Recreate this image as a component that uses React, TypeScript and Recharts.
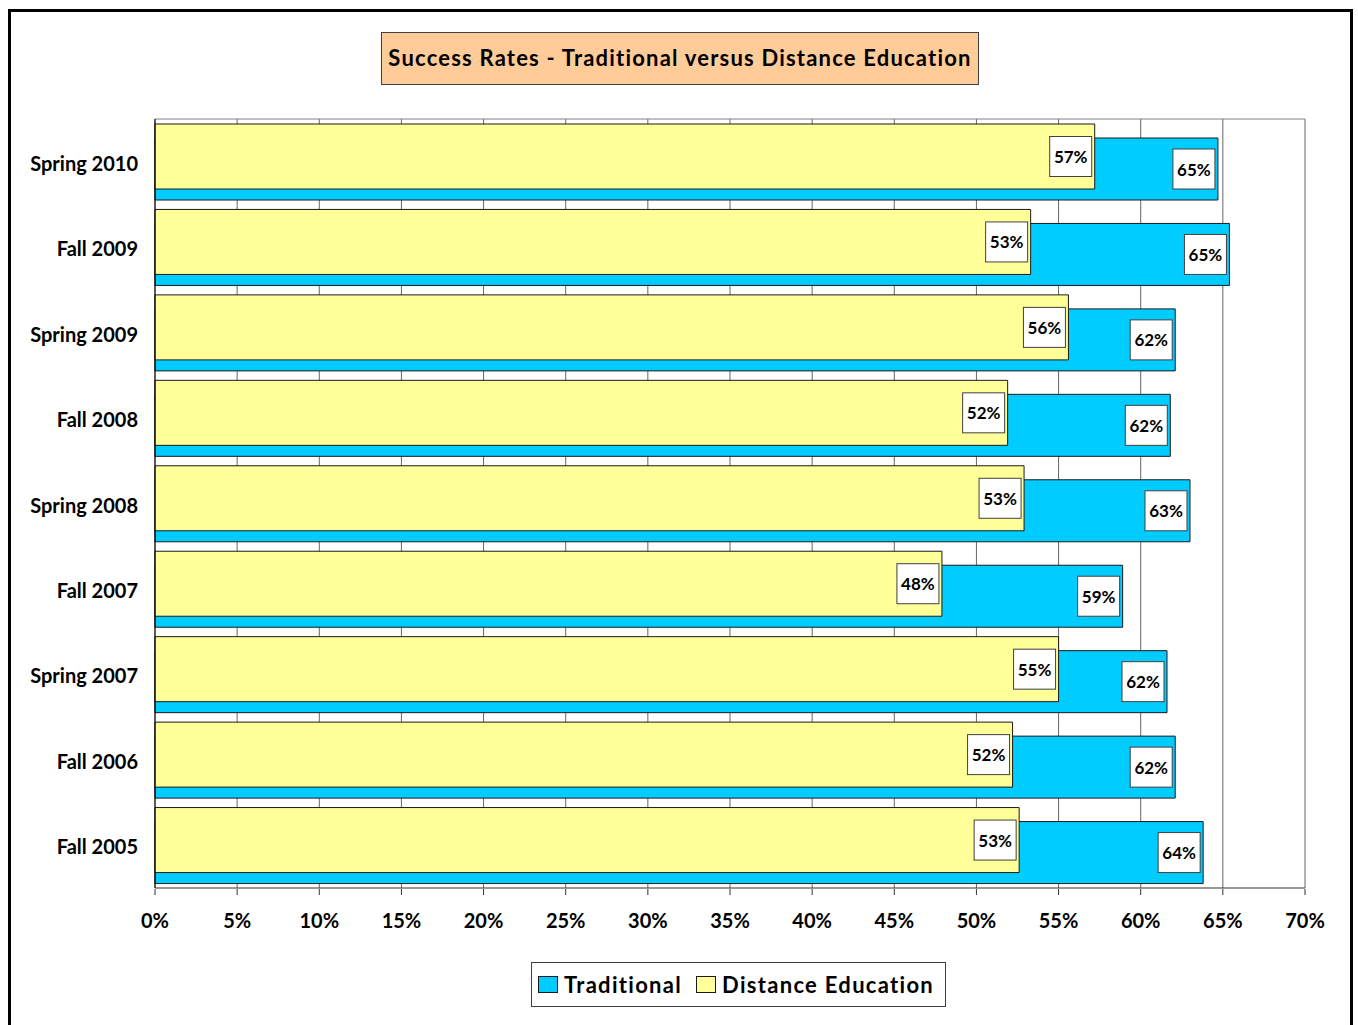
import React from 'react';
import { BarChart, Bar, XAxis, YAxis, CartesianGrid, LabelList } from 'recharts';

// terms, top to bottom as shown in the chart
const terms = [
  'Spring 2010',
  'Fall 2009',
  'Spring 2009',
  'Fall 2008',
  'Spring 2008',
  'Fall 2007',
  'Spring 2007',
  'Fall 2006',
  'Fall 2005',
];
// success rates in percent
const traditional = [64.7, 65.4, 62.1, 61.8, 63.0, 58.9, 61.6, 62.1, 63.8];
const distance = [57.2, 53.3, 55.6, 51.9, 52.9, 47.9, 55.0, 52.2, 52.6];

const majorTicks = [0, 5, 10, 15, 20, 25, 30, 35, 40, 45, 50, 55, 60, 65, 70];
const minorTicks = Array.from({ length: 71 }, (_, i) => i);
const boundaryTicks = [0, 1, 2, 3, 4, 5, 6, 7, 8, 9];

const BLUE = '#00CCFF';
const YELLOW = '#FFFF99';
const FONT = 'Lato, "Open Sans", sans-serif';

const data = terms.map((term, i) => ({
  term,
  Traditional: traditional[i],
  Distance: distance[i],
}));

// white boxed value label sitting inside the end of a bar
const ValueBox = (props: any) => {
  const vb = props.viewBox || props;
  const { x, y, width, height } = vb;
  const w = 42;
  const h = 40;
  const bx = x + width - w - 3;
  const by = y + height / 2 - h / 2;
  return (
    <g>
      <rect x={bx} y={by} width={w} height={h} fill="#fff" stroke="#404040" strokeWidth={1} />
      <text
        x={bx + w / 2}
        y={by + h / 2}
        textAnchor="middle"
        dominantBaseline="central"
        fontFamily={FONT}
        fontWeight={700}
        fontSize={17}
        fill="#000"
      >
        {`${Math.round(Number(props.value))}%`}
      </text>
    </g>
  );
};

export default function App() {
  return (
    <div
      style={{
        position: 'fixed',
        left: 0,
        top: 0,
        width: 1358,
        height: 1025,
        background: '#fff',
        overflow: 'hidden',
        fontFamily: FONT,
      }}
    >
      {/* chart area frame */}
      <div
        style={{
          position: 'absolute',
          left: 8,
          top: 9,
          width: 1345,
          height: 1040,
          border: '3px solid #000',
          boxSizing: 'border-box',
        }}
      />

      <div style={{ position: 'absolute', left: 0, top: 0 }}>
        <BarChart
          width={1358}
          height={1025}
          data={data}
          layout="vertical"
          barGap={-76}
          margin={{ top: 118, right: 53, bottom: 97, left: 5 }}
        >
          <CartesianGrid horizontal={false} stroke="#666" xAxisId="main" yAxisId="cat" />
          <XAxis
            xAxisId="main"
            type="number"
            domain={[0, 70]}
            ticks={majorTicks}
            interval={0}
            tickFormatter={(v) => `${v}%`}
            tickSize={6}
            tickMargin={19}
            height={39}
            axisLine={false}
            tickLine={{ stroke: '#333' }}
            tick={{ fill: '#000', fontSize: 20, fontWeight: 700, fontFamily: FONT }}
          />
          <XAxis
            xAxisId="top"
            orientation="top"
            type="number"
            domain={[0, 70]}
            ticks={[0, 70]}
            tick={false}
            tickLine={false}
            height={1}
            axisLine={{ stroke: '#808080' }}
          />
          <YAxis
            yAxisId="cat"
            type="category"
            dataKey="term"
            width={149}
            padding={{ top: 2, bottom: -2 }}
            axisLine={false}
            tickLine={false}
            tickSize={8}
            tickMargin={8}
            tick={{ fill: '#000', fontSize: 20, fontWeight: 700, fontFamily: FONT }}
          />
          {/* inner axes: minor percent ticks and category boundary ticks */}
          <XAxis
            type="number"
            domain={[0, 70]}
            ticks={minorTicks}
            tick={false}
            tickSize={3}
            height={1}
            stroke="#333"
            axisLine={{ stroke: '#333' }}
          />
          <YAxis
            type="number"
            domain={[0, 9]}
            ticks={boundaryTicks}
            tick={false}
            tickSize={8}
            width={1}
            axisLine={{ stroke: '#000' }}
            tickLine={{ stroke: '#333' }}
          />
          <Bar
            dataKey="Traditional"
            name="Traditional"
            xAxisId="main"
            yAxisId="cat"
            fill={BLUE}
            stroke="#1a1a1a"
            strokeWidth={1}
            barSize={62}
            isAnimationActive={false}
          >
            <LabelList dataKey="Traditional" content={ValueBox} />
          </Bar>
          <Bar
            dataKey="Distance"
            name="Distance Education"
            xAxisId="main"
            yAxisId="cat"
            fill={YELLOW}
            stroke="#1a1a1a"
            strokeWidth={1}
            barSize={65}
            isAnimationActive={false}
          >
            <LabelList dataKey="Distance" content={ValueBox} />
          </Bar>
        </BarChart>
      </div>

      {/* title */}
      <div
        style={{
          position: 'absolute',
          left: 381,
          top: 32,
          width: 598,
          height: 53,
          background: '#FFCC99',
          border: '1px solid #404040',
          boxSizing: 'border-box',
          display: 'flex',
          alignItems: 'center',
          justifyContent: 'center',
          paddingBottom: 3,
          fontSize: 22,
          fontWeight: 700,
          color: '#000',
          letterSpacing: 1.2,
          whiteSpace: 'nowrap',
        }}
      >
        Success Rates - Traditional versus Distance Education
      </div>

      {/* legend */}
      <div
        style={{
          position: 'absolute',
          left: 531,
          top: 962,
          width: 415,
          height: 45,
          border: '1px solid #404040',
          boxSizing: 'border-box',
          display: 'flex',
          alignItems: 'center',
          paddingLeft: 6,
          fontSize: 22,
          fontWeight: 700,
          letterSpacing: 1.3,
          color: '#000',
          whiteSpace: 'nowrap',
        }}
      >
        <span
          style={{
            display: 'inline-block',
            width: 20,
            height: 17,
            background: BLUE,
            border: '1px solid #1a1a1a',
            boxSizing: 'border-box',
            marginRight: 6,
          }}
        />
        <span style={{ marginRight: 14 }}>Traditional</span>
        <span
          style={{
            display: 'inline-block',
            width: 20,
            height: 17,
            background: YELLOW,
            border: '1px solid #1a1a1a',
            boxSizing: 'border-box',
            marginRight: 6,
          }}
        />
        <span>Distance Education</span>
      </div>
    </div>
  );
}
